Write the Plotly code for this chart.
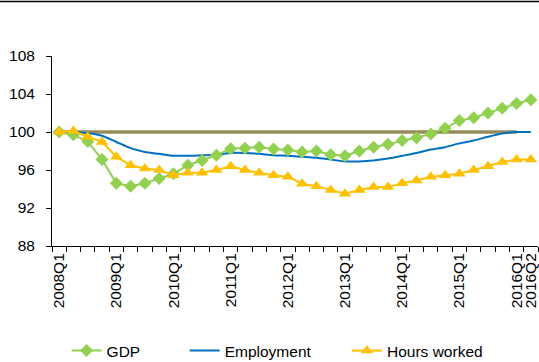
import plotly.graph_objects as go

# Quarterly index, 2008Q1 = 100
quarters = [
    "2008Q1", "2008Q2", "2008Q3", "2008Q4",
    "2009Q1", "2009Q2", "2009Q3", "2009Q4",
    "2010Q1", "2010Q2", "2010Q3", "2010Q4",
    "2011Q1", "2011Q2", "2011Q3", "2011Q4",
    "2012Q1", "2012Q2", "2012Q3", "2012Q4",
    "2013Q1", "2013Q2", "2013Q3", "2013Q4",
    "2014Q1", "2014Q2", "2014Q3", "2014Q4",
    "2015Q1", "2015Q2", "2015Q3", "2015Q4",
    "2016Q1", "2016Q2",
]
labelled_quarters = [
    "2008Q1", "2009Q1", "2010Q1", "2011Q1", "2012Q1",
    "2013Q1", "2014Q1", "2015Q1", "2016Q1", "2016Q2",
]

gdp = [100.0, 99.7, 99.0, 97.1, 94.6, 94.3, 94.6, 95.1, 95.6, 96.5,
       97.0, 97.55, 98.25, 98.3, 98.4, 98.2, 98.1, 97.9, 98.0, 97.6,
       97.5, 98.0, 98.4, 98.7, 99.1, 99.4, 99.8, 100.4, 101.2, 101.5,
       102.0, 102.5, 103.0, 103.4]
employment = [100.0, 100.0, 99.9, 99.6, 98.95, 98.3, 97.9, 97.7, 97.5, 97.5,
              97.55, 97.6, 97.8, 97.8, 97.7, 97.55, 97.5, 97.4, 97.3, 97.1,
              96.9, 96.9, 97.0, 97.2, 97.5, 97.8, 98.15, 98.4, 98.8, 99.1,
              99.5, 99.85, 100.0, 100.0]
hours_worked = [100.0, 100.1, 99.5, 98.95, 97.4, 96.5, 96.15, 96.0, 95.45, 95.7,
                95.7, 96.0, 96.4, 96.0, 95.7, 95.45, 95.3, 94.55, 94.3, 93.9,
                93.5, 93.9, 94.2, 94.2, 94.6, 94.9, 95.3, 95.45, 95.6, 96.0,
                96.4, 96.85, 97.1, 97.1]
base_level = [100.0] * 33  # reference line through 2016Q1

FONT = "Liberation Sans, Arial, sans-serif"
FSIZE = 15.5

fig = go.Figure()

fig.add_trace(go.Scatter(
    x=quarters[:len(base_level)], y=base_level, mode="lines",
    line=dict(color="#968b59", width=3.5), showlegend=False, hoverinfo="skip",
))
fig.add_trace(go.Scatter(
    x=quarters, y=employment, mode="lines", name="Employment",
    line=dict(color="#0070c0", width=2, shape="spline", smoothing=0.7),
    legend="legend2",
))
fig.add_trace(go.Scatter(
    x=quarters, y=gdp, mode="lines+markers", name="GDP",
    line=dict(color="#92d050", width=2),
    marker=dict(symbol="diamond", size=10, color="#92d050"),
    legend="legend",
))
fig.add_trace(go.Scatter(
    x=quarters, y=hours_worked, mode="lines+markers", name="Hours worked",
    line=dict(color="#ffc000", width=2),
    marker=dict(symbol="triangle-up", size=11, color="#ffc000"),
    legend="legend3",
))

ticktext = [q if q in labelled_quarters else "" for q in quarters]

legend_common = dict(
    orientation="h", yref="container", yanchor="middle", y=1 - 351 / 362,
    xanchor="left",
    font=dict(family=FONT, size=FSIZE, color="#000000"),
    bgcolor="rgba(0,0,0,0)", borderwidth=0,
)

fig.update_layout(
    width=539, height=362,
    margin=dict(l=52, r=1, t=56, b=116, pad=0, autoexpand=False),
    paper_bgcolor="white", plot_bgcolor="white",
    font=dict(family=FONT, size=FSIZE, color="#000000"),
    legend=dict(x=0.03, **legend_common),
    legend2=dict(x=0.273, **legend_common),
    legend3=dict(x=0.607, **legend_common),
    xaxis=dict(
        type="category", categoryorder="array", categoryarray=quarters,
        range=[-0.5, len(quarters) - 0.5],
        tickmode="array", tickvals=quarters, ticktext=ticktext,
        tickangle=-90, tickson="boundaries",
        ticks="outside", ticklen=5, tickcolor="#000000", tickwidth=1,
        showline=True, linecolor="#000000", linewidth=1,
        showgrid=False, zeroline=False, automargin=False,
        tickfont=dict(family=FONT, size=FSIZE, color="#000000"),
    ),
    yaxis=dict(
        range=[88, 108], tickmode="linear", tick0=88, dtick=4,
        ticks="outside", ticklen=5, tickcolor="#000000", tickwidth=1,
        showline=True, linecolor="#000000", linewidth=1,
        showgrid=False, zeroline=False, automargin=False,
        ticklabelstandoff=8,
        tickfont=dict(family=FONT, size=FSIZE, color="#000000"),
    ),
    shapes=[dict(
        type="line", xref="paper", yref="paper",
        x0=-52 / 486, x1=487 / 486, y0=1.287, y1=1.287,
        line=dict(color="#000000", width=1.5),
    )],
)

fig.write_html("out.html")
